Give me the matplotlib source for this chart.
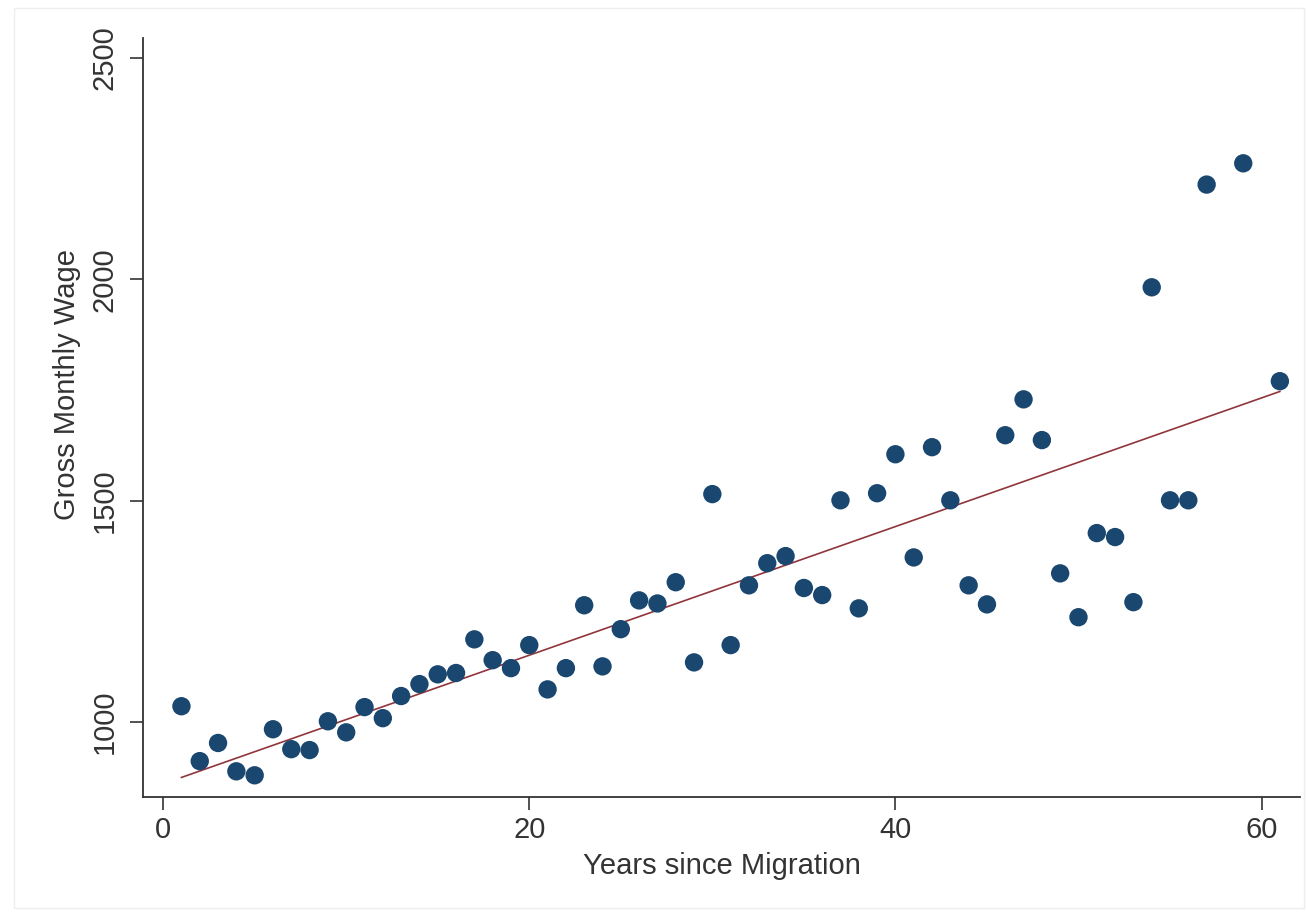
import numpy as np
import matplotlib
matplotlib.use('Agg')
import matplotlib.pyplot as plt

# Years since migration and mean gross monthly wage
years = [1, 2, 3, 4, 5, 6, 7, 8, 9, 10,
         11, 12, 13, 14, 15, 16, 17, 18, 19, 20,
         21, 22, 23, 24, 25, 26, 27, 28, 29, 30,
         31, 32, 33, 34, 35, 36, 37, 38, 39, 40,
         41, 42, 43, 44, 45, 46, 47, 48, 49, 50,
         51, 52, 53, 54, 55, 56, 57, 59, 61]
wage = [1036, 912, 953, 889, 880, 984, 939, 937, 1002, 977,
        1034, 1009, 1059, 1086, 1108, 1111, 1187, 1140, 1122, 1174,
        1074, 1122, 1264, 1126, 1210, 1275, 1268, 1316, 1135, 1515,
        1174, 1309, 1359, 1375, 1303, 1287, 1501, 1257, 1517, 1605,
        1372, 1621, 1501, 1309, 1266, 1648, 1729, 1637, 1336, 1237,
        1427, 1418, 1271, 1982, 1501, 1501, 2214, 2262, 1770]

x_ticks = [0, 20, 40, 60]
y_ticks = [1000, 1500, 2000, 2500]

plt.rcParams['font.family'] = ['Liberation Sans', 'DejaVu Sans']

fig = plt.figure(figsize=(13.07, 9.14), dpi=100)
ax = fig.add_axes([143 / 1307, 117 / 914, 1157 / 1307, 759 / 914])

# linear fit line (like Stata lfit)
slope, intercept = np.polyfit(years, wage, 1)
xs = np.array([min(years), max(years)])
ax.plot(xs, intercept + slope * xs, color='#90353b', lw=1.2, zorder=2)

ax.scatter(years, wage, s=175, color='#1a476f', edgecolors='none', zorder=3)

ax.set_xlim(-1.1, 62.1)
ax.set_ylim(831, 2545)
ax.set_xticks(x_ticks)
ax.set_yticks(y_ticks)
ax.set_yticklabels([str(v) for v in y_ticks], rotation=90, va='center')

for side in ['top', 'right']:
    ax.spines[side].set_visible(False)
for side in ['left', 'bottom']:
    ax.spines[side].set_color('#333333')
    ax.spines[side].set_linewidth(1.3)

ax.tick_params(direction='out', length=9.5, width=1.2, color='#333333',
               labelsize=21, labelcolor='#333333')
ax.tick_params(axis='x', pad=4)
ax.tick_params(axis='y', pad=8)

ax.set_xlabel('Years since Migration', fontsize=21, color='#333333', labelpad=6)
ax.set_ylabel('Gross Monthly Wage', fontsize=21, color='#333333')
ax.yaxis.set_label_coords(-0.054, 0.544)

# faint outer border of the graph region
fig.patches.append(plt.Rectangle((14 / 1307, 6 / 914), 1290 / 1307, 900 / 914,
                                 transform=fig.transFigure, fill=False,
                                 edgecolor='#eeeeee', lw=1.0))

plt.savefig('out.png', dpi=100)
plt.close()
